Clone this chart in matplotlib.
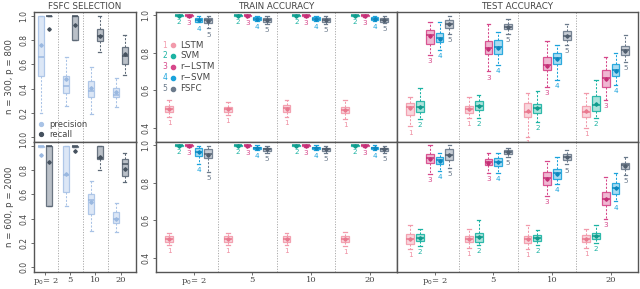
import matplotlib
matplotlib.use("Agg")
import matplotlib.pyplot as plt

# ---------------- data ----------------
P0_LABELS = ["p$_0$= 2", "5", "10", "20"]
METHODS = ["LSTM", "SVM", "r\u2212LSTM", "r\u2212SVM", "FSFC"]
FSFC_SERIES = ["precision", "recall"]

# box stats per group: (whislo, q1, median, q3, whishi, mean)
FSFC_300_PRECISION = [(0.20, 0.50, 0.66, 1.00, 1.00, 0.76), (0.26, 0.36, 0.42, 0.50, 0.66, 0.48),
                      (0.19, 0.33, 0.38, 0.46, 0.575, 0.405), (0.25, 0.33, 0.35, 0.405, 0.49, 0.37)]
FSFC_300_RECALL = [(1.00, 1.00, 1.00, 1.00, 1.00, 0.89), (0.80, 0.80, 1.00, 1.00, 1.00, 0.92),
                   (0.70, 0.79, 0.83, 0.89, 0.995, 0.83), (0.51, 0.60, 0.67, 0.74, 0.84, 0.685)]
FSFC_600_PRECISION = [(0.99, 0.99, 1.00, 1.00, 1.00, 0.92), (0.50, 0.62, 0.755, 1.00, 1.00, 0.77),
                      (0.30, 0.436, 0.553, 0.60, 0.71, 0.54), (0.286, 0.36, 0.40, 0.45, 0.53, 0.395)]
FSFC_600_RECALL = [(0.50, 0.50, 1.00, 1.00, 1.00, 0.864), (0.99, 0.99, 1.00, 1.00, 1.00, 0.96),
                   (0.80, 0.89, 0.90, 1.00, 1.00, 0.91), (0.70, 0.75, 0.845, 0.89, 0.94, 0.81)]

TRAIN_300 = {
    "LSTM": [(0.455, 0.485, 0.50, 0.515, 0.547, 0.50), (0.467, 0.485, 0.498, 0.512, 0.538, 0.498),
             (0.458, 0.485, 0.503, 0.52, 0.547, 0.502), (0.444, 0.476, 0.493, 0.51, 0.547, 0.493)],
    "SVM": [(0.995, 0.997, 1.0, 1.0, 1.0, 0.999)] * 4,
    "r-LSTM": [(0.993, 0.996, 1.0, 1.0, 1.0, 0.999)] * 4,
    "r-SVM": [(0.962, 0.966, 0.977, 0.988, 0.998, 0.977), (0.97, 0.975, 0.982, 0.99, 0.998, 0.982),
              (0.97, 0.975, 0.982, 0.99, 0.998, 0.982), (0.97, 0.975, 0.982, 0.99, 0.998, 0.982)],
    "FSFC": [(0.93, 0.958, 0.975, 0.985, 0.998, 0.972), (0.955, 0.962, 0.975, 0.985, 0.998, 0.975),
             (0.955, 0.962, 0.975, 0.985, 0.998, 0.975), (0.958, 0.965, 0.977, 0.987, 0.998, 0.977)],
}
TRAIN_600 = {
    "LSTM": [(0.466, 0.484, 0.50, 0.513, 0.53, 0.50), (0.468, 0.485, 0.50, 0.513, 0.53, 0.50),
             (0.468, 0.485, 0.50, 0.513, 0.53, 0.50), (0.462, 0.483, 0.50, 0.513, 0.535, 0.50)],
    "SVM": [(0.995, 0.997, 1.0, 1.0, 1.0, 0.999)] * 4,
    "r-LSTM": [(0.993, 0.996, 1.0, 1.0, 1.0, 0.999)] * 4,
    "r-SVM": [(0.90, 0.943, 0.964, 0.987, 0.996, 0.962), (0.975, 0.98, 0.987, 0.993, 1.0, 0.987),
              (0.975, 0.98, 0.987, 0.993, 1.0, 0.987), (0.975, 0.98, 0.987, 0.993, 1.0, 0.987)],
    "FSFC": [(0.86, 0.93, 0.952, 0.98, 0.996, 0.95), (0.96, 0.968, 0.978, 0.988, 0.998, 0.978),
             (0.96, 0.968, 0.978, 0.988, 0.998, 0.978), (0.96, 0.968, 0.978, 0.988, 0.998, 0.978)],
}
TEST_300 = {
    "LSTM": [(0.406, 0.468, 0.509, 0.53, 0.565, 0.505), (0.45, 0.477, 0.50, 0.516, 0.565, 0.50),
             (0.35, 0.459, 0.486, 0.53, 0.587, 0.49), (0.40, 0.459, 0.486, 0.516, 0.587, 0.488)],
    "SVM": [(0.445, 0.486, 0.51, 0.543, 0.61, 0.512), (0.45, 0.495, 0.516, 0.54, 0.574, 0.515),
            (0.43, 0.48, 0.503, 0.526, 0.597, 0.503), (0.45, 0.49, 0.521, 0.571, 0.654, 0.525)],
    "r-LSTM": [(0.787, 0.846, 0.897, 0.924, 0.964, 0.89), (0.70, 0.796, 0.823, 0.863, 0.952, 0.82),
               (0.615, 0.707, 0.734, 0.775, 0.863, 0.73), (0.548, 0.619, 0.663, 0.707, 0.775, 0.66)],
    "r-SVM": [(0.814, 0.855, 0.88, 0.908, 0.964, 0.875), (0.734, 0.796, 0.83, 0.867, 0.911, 0.825),
              (0.654, 0.738, 0.77, 0.80, 0.84, 0.765), (0.628, 0.676, 0.707, 0.738, 0.80, 0.705)],
    "FSFC": [(0.90, 0.935, 0.955, 0.973, 0.995, 0.953), (0.90, 0.929, 0.94, 0.952, 0.982, 0.94),
             (0.84, 0.867, 0.89, 0.917, 0.956, 0.888), (0.752, 0.79, 0.814, 0.835, 0.897, 0.812)],
}
TEST_600 = {
    "LSTM": [(0.444, 0.471, 0.50, 0.525, 0.573, 0.50), (0.453, 0.484, 0.50, 0.516, 0.555, 0.50),
             (0.444, 0.477, 0.498, 0.516, 0.573, 0.498), (0.453, 0.484, 0.502, 0.52, 0.551, 0.50)],
    "SVM": [(0.462, 0.489, 0.507, 0.525, 0.551, 0.507), (0.466, 0.484, 0.51, 0.534, 0.60, 0.512),
            (0.466, 0.489, 0.507, 0.52, 0.546, 0.507), (0.477, 0.498, 0.514, 0.53, 0.573, 0.514)],
    "r-LSTM": [(0.849, 0.904, 0.934, 0.952, 1.0, 0.925), (0.85, 0.893, 0.91, 0.925, 0.961, 0.905),
               (0.73, 0.786, 0.827, 0.857, 0.916, 0.822), (0.608, 0.68, 0.715, 0.75, 0.833, 0.712)],
    "r-SVM": [(0.863, 0.898, 0.92, 0.94, 0.961, 0.918), (0.854, 0.89, 0.91, 0.934, 0.957, 0.91),
              (0.795, 0.822, 0.85, 0.872, 0.94, 0.848), (0.70, 0.738, 0.774, 0.80, 0.854, 0.77)],
    "FSFC": [(0.88, 0.922, 0.95, 0.979, 1.0, 0.948), (0.94, 0.952, 0.963, 0.973, 0.988, 0.962),
             (0.898, 0.922, 0.94, 0.952, 0.975, 0.938), (0.84, 0.875, 0.893, 0.907, 0.94, 0.89)],
}

# ---------------- styles ----------------
EDGE = ["#f29aab", "#1cb3a3", "#d6478a", "#1aa3dc", "#6b7a8b"]
FILL = ["#f9d2da", "#a2e0d8", "#eeb1cd", "#9fd8f0", "#c0c7d0"]
DARK = ["#e9798f", "#0f9c8d", "#c52f76", "#0b87bf", "#505e6e"]
FS_EDGE = ["#a9c3e6", "#5d6977"]
FS_FILL = ["#d9e5f5", "#b3bac2"]
FS_DARK = ["#9ab8e0", "#46525f"]
AXC = "#555555"
TXT = "#444444"

W, H = 640, 289


def add_ax(l, t, r, b):
    return fig.add_axes([l / W, 1 - b / H, (r - l) / W, (b - t) / H])


def style_ax(ax):
    for s in ax.spines.values():
        s.set_color(AXC)
        s.set_linewidth(1.0)
    ax.tick_params(colors=AXC, labelcolor=TXT, labelsize=5.5, length=2.5, width=0.6, pad=1.5)


def draw_box(ax, stats, positions, width, edge, fill, dark, whisk_ls=(0, (2, 1.5))):
    st = []
    for (lo, q1, med, q3, hi, mean) in stats:
        st.append(dict(whislo=lo, q1=q1, med=med, q3=q3, whishi=hi, mean=mean, fliers=[]))
    ax.bxp(st, positions=positions, widths=width, patch_artist=True, showmeans=True,
           showfliers=False, capwidths=width * 0.45, manage_ticks=False,
           boxprops=dict(facecolor=fill, edgecolor=edge, linewidth=0.9, alpha=0.9),
           whiskerprops=dict(color=edge, linewidth=0.75, linestyle=whisk_ls),
           capprops=dict(color=edge, linewidth=0.9),
           medianprops=dict(color=dark, linewidth=1.1),
           meanprops=dict(marker="D", markersize=1.8, markerfacecolor=dark,
                          markeredgecolor=dark))


fig = plt.figure(figsize=(6.4, 2.89), dpi=100)

rows = [
    (12, 142, "n = 300, p = 800", FSFC_300_PRECISION, FSFC_300_RECALL, TRAIN_300, TEST_300),
    (142, 272, "n = 600, p = 2000", FSFC_600_PRECISION, FSFC_600_RECALL, TRAIN_600, TEST_600),
]
KEYS = ["LSTM", "SVM", "r-LSTM", "r-SVM", "FSFC"]


def set_xlabels(ax, ticks):
    ax.set_xticks(ticks)
    ax.set_xticklabels(P0_LABELS, fontsize=6.0, family="DejaVu Serif")
    ax.tick_params(axis="x", pad=0.8, length=2)


for ri, (top, bot, rlabel, prec, rec, train, test) in enumerate(rows):
    # ---------- FSFC selection ----------
    ax = add_ax(34, top, 136, bot)
    style_ax(ax)
    for si, data in enumerate([prec, rec]):
        pos = [g * 3 + 1 + si for g in range(4)]
        draw_box(ax, data, pos, 0.72, FS_EDGE[si], FS_FILL[si], FS_DARK[si])
    for xb in [3, 6, 9]:
        ax.axvline(xb, color="#aaaaaa", lw=0.7, ls=(0, (1.2, 1.5)))
    ax.set_xlim(0.15, 12.35)
    ax.set_ylim(-0.04, 1.03)
    ax.set_yticks([0.0, 0.2, 0.4, 0.6, 0.8, 1.0])
    if ri == 0:
        ax.set_yticklabels(["0.0", "0.2", "0.4", "0.6", "0.8", "1.0"], rotation=90, va="center")
        ax.set_title("FSFC SELECTION", fontsize=6.3, color=TXT, pad=2)
        for si, lab in enumerate(FSFC_SERIES):
            yy = [0.136, 0.059][si]
            ax.plot([0.069], [yy], marker="o", ms=2.8, color=FS_DARK[si] if si else FS_EDGE[si],
                    transform=ax.transAxes, clip_on=False)
            ax.text(0.15, yy, lab, transform=ax.transAxes, fontsize=6, color=TXT, va="center")
        ax.set_xticks([])
    else:
        ax.set_yticklabels(["0.0", "0.2", "0.4", "0.6", "0.8", "1"], rotation=90, va="center")
        set_xlabels(ax, [g * 3 + 1.5 for g in range(4)])
    fig.text(10 / W, 1 - (top + bot) / 2 / H, rlabel, rotation=90, ha="center", va="center",
             fontsize=6.2, color=TXT)

    # ---------- train / test ----------
    for pi, (data, l, r, title) in enumerate([(train, 156, 397, "TRAIN ACCURACY"),
                                              (test, 397, 638, "TEST ACCURACY")]):
        ax2 = add_ax(l, top, r, bot)
        style_ax(ax2)
        for k, key in enumerate(KEYS):
            pos = [g * 6 + k + 1 for g in range(4)]
            draw_box(ax2, data[key], pos, 0.8, EDGE[k], FILL[k], DARK[k])
            for g in range(4):
                ax2.annotate(str(k + 1), (pos[g], data[key][g][0]), xytext=(0, -2.2),
                             textcoords="offset points", ha="center", va="top",
                             fontsize=5.2, color=EDGE[k] if k else "#ef8fa2")
        for xb in [6, 12, 18]:
            ax2.axvline(xb, color="#aaaaaa", lw=0.7, ls=(0, (1.2, 1.5)))
        ax2.set_xlim(-0.35, 24.3)
        ax2.set_ylim(0.323, 1.018)
        if pi == 0:
            ax2.set_yticks([0.4, 0.6, 0.8, 1.0])
            ax2.set_yticklabels(["0.4", "0.6", "0.8", "1.0"], rotation=90, va="center")
        else:
            ax2.set_yticks([])
        if ri == 0:
            ax2.set_title(title, fontsize=6.3, color=TXT, pad=2)
        if ri == 0 and pi == 0:
            ys = [0.746, 0.664, 0.579, 0.495, 0.408]
            for k, name in enumerate(METHODS):
                ax2.text(0.037, ys[k], str(k + 1), transform=ax2.transAxes, fontsize=5.5,
                         color=EDGE[k], ha="center", va="center")
                ax2.plot([0.069], [ys[k]], marker="o", ms=3, color=EDGE[k],
                         transform=ax2.transAxes, clip_on=False)
                ax2.text(0.10, ys[k], name, transform=ax2.transAxes, fontsize=6.3,
                         color=TXT, va="center")
        if ri == 1:
            set_xlabels(ax2, [g * 6 + 3.5 for g in range(4)])
        else:
            ax2.set_xticks([])

fig.savefig("out.png", dpi=100)
